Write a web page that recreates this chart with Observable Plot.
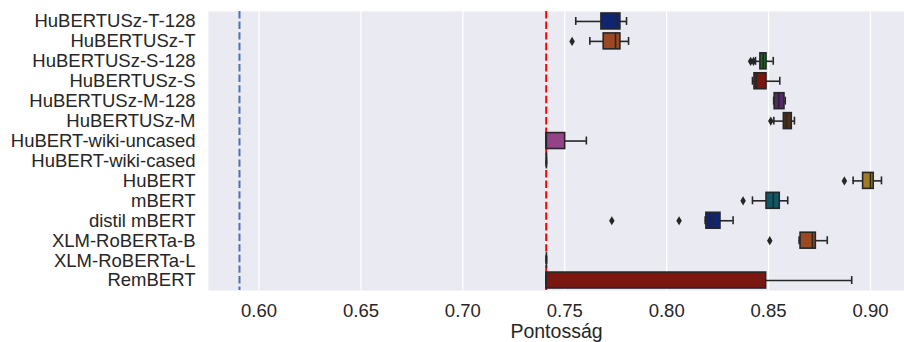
<!DOCTYPE html>
<html>
<head>
<meta charset="utf-8">
<script src="https://cdn.jsdelivr.net/npm/d3@7"></script>
<script src="https://cdn.jsdelivr.net/npm/@observablehq/plot@0.6"></script>
<style>
  html, body { margin: 0; padding: 0; background: #ffffff; }
  #chart svg { display: block; }
</style>
</head>
<body>
<div id="chart"></div>
<script>
const categories = ["HuBERTUSz-T-128","HuBERTUSz-T","HuBERTUSz-S-128","HuBERTUSz-S","HuBERTUSz-M-128","HuBERTUSz-M","HuBERT-wiki-uncased","HuBERT-wiki-cased","HuBERT","mBERT","distil mBERT","XLM-RoBERTa-B","XLM-RoBERTa-L","RemBERT"];
const whiskerLow  = [0.7554, 0.7623, 0.8436, 0.8421, 0.8525, 0.8526, 0.7410, 0.7410, 0.8915, 0.8421, 0.8189, 0.8650, 0.7410, 0.7410];
const q1          = [0.7680, 0.7691, 0.8460, 0.8431, 0.8530, 0.8575, 0.7410, 0.7410, 0.8964, 0.8490, 0.8195, 0.8657, 0.7410, 0.7410];
const median      = [0.7757, 0.7749, 0.8474, 0.8440, 0.8550, 0.8588, 0.7410, 0.7410, 0.9000, 0.8523, 0.8221, 0.8715, 0.7410, 0.7410];
const q3          = [0.7773, 0.7773, 0.8490, 0.8490, 0.8578, 0.8614, 0.7502, 0.7410, 0.9016, 0.8555, 0.8264, 0.8732, 0.7410, 0.8488];
const whiskerHigh = [0.7803, 0.7813, 0.8523, 0.8555, 0.8582, 0.8627, 0.7606, 0.7410, 0.9054, 0.8594, 0.8326, 0.8788, 0.7410, 0.8908];
const boxColors   = ["#10246f","#9c4822","#1e6525","#7a1711","#552867","#503016","#944386","#3c3c3c","#a27c20","#0f5966","#10246f","#9c4822","#1e6525","#7a1711"];
const outlierModels = ["HuBERTUSz-T","HuBERTUSz-S-128","HuBERTUSz-S-128","HuBERTUSz-M","HuBERT","mBERT","distil mBERT","distil mBERT","XLM-RoBERTa-B"];
const outlierValues = [0.7536, 0.8412, 0.8426, 0.8511, 0.8872, 0.8375, 0.7731, 0.8061, 0.8506];
const baselineBlue = 0.5904;
const baselineRed = 0.7409;
const xTicks = [0.60, 0.65, 0.70, 0.75, 0.80, 0.85, 0.90];
const xLabel = "Pontosság";

const boxes = categories.map((name, i) => ({
  name, lo: whiskerLow[i], q1: q1[i], med: median[i], q3: q3[i], hi: whiskerHigh[i], color: boxColors[i]
}));
const outliers = outlierModels.map((name, i) => ({name, value: outlierValues[i]}));

const edge = "#262626";
const thinDiamond = {
  draw(context, size) {
    const s = Math.sqrt(size / Math.PI);
    const w = s * 0.6;
    context.moveTo(0, -s);
    context.lineTo(w, 0);
    context.lineTo(0, s);
    context.lineTo(-w, 0);
    context.closePath();
  }
};

const chart = Plot.plot({
  width: 904,
  height: 342,
  marginTop: 11,
  marginBottom: 52,
  marginLeft: 208,
  marginRight: 0,
  style: {fontFamily: "'Liberation Sans', Arial, sans-serif", fontSize: "18.5px", color: "#262626", background: "#ffffff"},
  x: {domain: [0.5752, 0.9167], ticks: xTicks, tickFormat: ".2f"},
  y: {domain: categories, padding: 0, round: false},
  color: {type: "identity"},
  marks: [
    Plot.frame({fill: "#eaeaf2", stroke: null}),
    Plot.gridX(xTicks, {stroke: "#ffffff", strokeOpacity: 1, strokeWidth: 1.3}),
    Plot.ruleX([baselineBlue], {stroke: "#4c72b0", strokeWidth: 2, strokeDasharray: "7.4,3.2"}),
    Plot.ruleX([baselineRed], {stroke: "#ff0000", strokeWidth: 2, strokeDasharray: "7.4,3.2"}),
    Plot.ruleY(boxes, {y: "name", x1: "lo", x2: "q1", stroke: edge, strokeWidth: 1.6}),
    Plot.ruleY(boxes, {y: "name", x1: "q3", x2: "hi", stroke: edge, strokeWidth: 1.6}),
    Plot.tickX(boxes, {y: "name", x: "lo", stroke: edge, strokeWidth: 1.6, insetTop: 6, insetBottom: 6}),
    Plot.tickX(boxes, {y: "name", x: "hi", stroke: edge, strokeWidth: 1.6, insetTop: 6, insetBottom: 6}),
    Plot.barX(boxes, {y: "name", x1: "q1", x2: "q3", fill: "color", stroke: edge, strokeWidth: 1.6, insetTop: 2, insetBottom: 2}),
    Plot.tickX(boxes, {y: "name", x: "med", stroke: edge, strokeWidth: 1.6, insetTop: 2, insetBottom: 2}),
    Plot.dot(outliers, {y: "name", x: "value", symbol: thinDiamond, r: 4.6, fill: edge, stroke: null}),
    Plot.axisY({tickSize: 0, tickPadding: 13, label: null, fontSize: 18.5, fill: "#262626"}),
    Plot.axisX({tickSize: 0, tickPadding: 13, label: null, fontSize: 18.5, fill: "#262626", tickFormat: ".2f"}),
    Plot.text([xLabel], {frameAnchor: "bottom", dy: 41, fontSize: 19.5, fill: "#262626", lineAnchor: "middle"})
  ]
});
document.getElementById("chart").append(chart);
</script>
</body>
</html>
